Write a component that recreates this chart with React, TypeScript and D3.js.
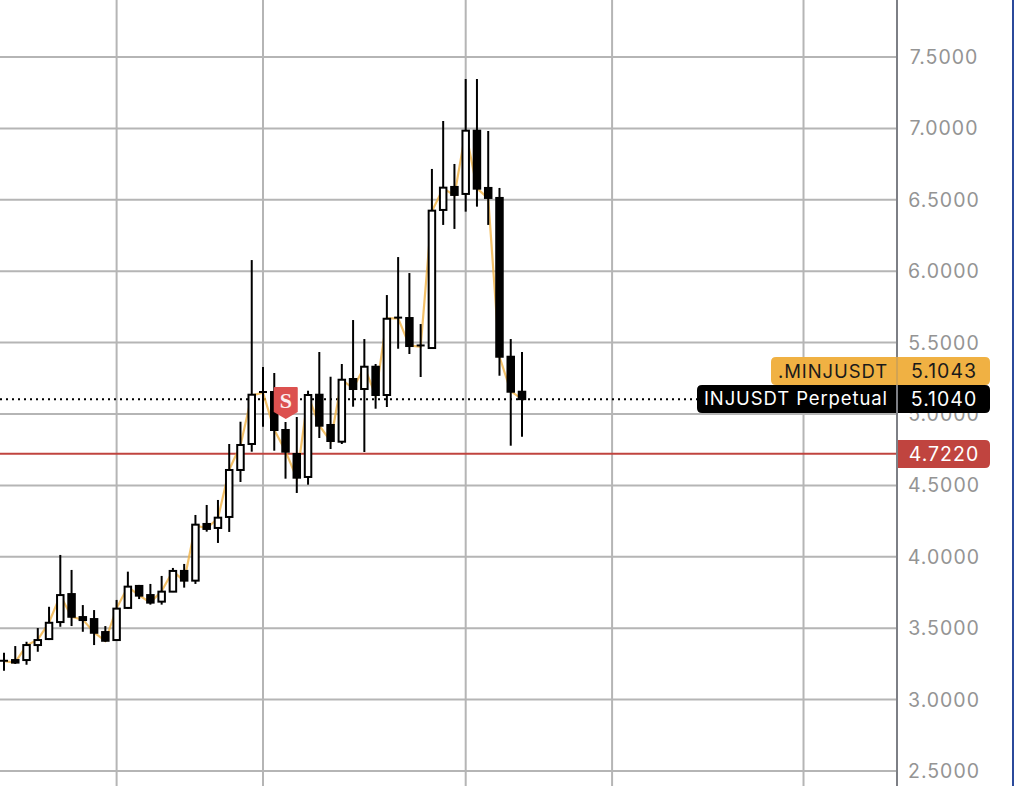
import React, { useMemo } from "react"
import * as d3 from "d3"

const WIDTH = 1014
const HEIGHT = 786

const opens = [3.27, 3.277, 3.277, 3.382, 3.424, 3.543, 3.739, 3.578, 3.564, 3.473, 3.417, 3.642, 3.796, 3.732, 3.686, 3.756, 3.901, 3.833, 4.23, 4.202, 4.279, 4.608, 4.79, 5.15, 5.154, 4.888, 4.72, 4.559, 5.135, 4.923, 4.806, 5.245, 5.175, 5.331, 5.133, 5.67, 5.672, 5.48, 5.462, 6.429, 6.59, 6.541, 6.984, 6.583, 6.513, 5.401, 5.156]
const highs = [3.328, 3.375, 3.405, 3.501, 3.65, 4.013, 3.908, 3.662, 3.627, 3.515, 3.698, 3.896, 3.803, 3.81, 3.866, 3.922, 3.95, 4.293, 4.363, 4.398, 4.79, 4.946, 6.078, 5.329, 5.287, 4.944, 4.979, 5.163, 5.434, 5.261, 5.35, 5.658, 5.525, 5.35, 5.833, 6.099, 5.987, 5.63, 6.716, 7.052, 6.751, 7.346, 7.346, 6.982, 6.583, 5.525, 5.434]
const lows = [3.202, 3.25, 3.244, 3.335, 3.417, 3.51, 3.515, 3.475, 3.382, 3.405, 3.412, 3.637, 3.704, 3.665, 3.665, 3.753, 3.784, 3.81, 4.176, 4.097, 4.174, 4.524, 4.736, 4.911, 4.743, 4.547, 4.447, 4.505, 4.832, 4.755, 4.79, 5.051, 4.734, 5.037, 5.049, 5.457, 5.42, 5.259, 5.462, 6.324, 6.296, 6.417, 6.452, 6.324, 5.268, 4.778, 4.841]
const closes = [3.272, 3.259, 3.382, 3.417, 3.538, 3.732, 3.58, 3.557, 3.468, 3.412, 3.637, 3.791, 3.728, 3.679, 3.756, 3.901, 3.833, 4.225, 4.195, 4.274, 4.608, 4.783, 5.135, 5.154, 4.888, 4.736, 4.554, 5.133, 4.918, 4.811, 5.24, 5.175, 5.331, 5.133, 5.667, 5.675, 5.476, 5.475, 6.424, 6.585, 6.534, 6.984, 6.578, 6.513, 5.401, 5.156, 5.104]
const indexCloses = [3.27, 3.26, 3.38, 3.42, 3.54, 3.73, 3.58, 3.56, 3.47, 3.41, 3.64, 3.79, 3.73, 3.68, 3.76, 3.9, 3.83, 4.22, 4.2, 4.27, 4.61, 4.78, 5.13, 5.15, 4.89, 4.74, 4.55, 5.13, 4.92, 4.81, 5.24, 5.18, 5.33, 5.13, 5.67, 5.67, 5.48, 5.47, 6.42, 6.58, 6.53, 6.98, 6.58, 6.51, 5.4, 5.16, 5.1043]

const priceTicks = [7.5, 7, 6.5, 6, 5.5, 5, 4.5, 4, 3.5, 3, 2.5]
const timeTicks = [10, 23, 41, 54, 71]

const lastPrice = 5.104
const indexPrice = 5.1043
const liquidationPrice = 4.722
const sellMarkerIndex = 24

const GOLD = "#f0b143"
const RED = "#c0443f"
const GRID = "#b5b5b5"
const FONT = "Inter, 'Noto Sans', sans-serif"

const App: React.FC = () => {
  const x = useMemo(() => d3.scaleLinear().domain([0, 46]).range([4, 522]), [])
  const y = useMemo(() => d3.scaleLinear().domain([7.5, 2.5]).range([57, 771]), [])
  const axisX = 897

  const indexLine = d3.line<number>().x((_, i) => x(i)).y(d => y(d))(indexCloses) || ""
  const markerX = x(sellMarkerIndex) + 11.5

  return (
    <svg width={WIDTH} height={HEIGHT} style={{ position: "absolute", left: 0, top: 0, display: "block", background: "#fff" }} fontFamily={FONT}>
      {/* grid */}
      {priceTicks.map(t => (
        <line key={t} x1={0} x2={axisX} y1={y(t)} y2={y(t)} stroke={GRID} strokeWidth={2} />
      ))}
      {timeTicks.map(t => (
        <line key={t} x1={x(t)} x2={x(t)} y1={0} y2={HEIGHT} stroke={GRID} strokeWidth={2} />
      ))}

      {/* price lines */}
      <line x1={0} x2={axisX} y1={y(liquidationPrice)} y2={y(liquidationPrice)} stroke={RED} strokeWidth={2} />
      <line x1={0} x2={700} y1={y(lastPrice)} y2={y(lastPrice)} stroke="#000" strokeWidth={2} strokeDasharray="2 4" />

      <path d={indexLine} fill="none" stroke={GOLD} strokeWidth={2.2} opacity={0.8} />

      {/* candles */}
      {closes.map((c, i) => {
        const o = opens[i]
        const up = c >= o
        const top = y(Math.max(o, c))
        const bottom = y(Math.min(o, c))
        const doji = bottom - top < 2
        return (
          <g key={i}>
            <line x1={x(i)} x2={x(i)} y1={y(highs[i])} y2={y(lows[i])} stroke="#000" strokeWidth={2} />
            {doji ? (
              <line x1={x(i) - 4} x2={x(i) + 4} y1={top} y2={top} stroke="#000" strokeWidth={2} />
            ) : (
              <rect x={x(i) - 3.25} y={top} width={6.5} height={bottom - top} fill={up ? "#fff" : "#000"} stroke="#000" strokeWidth={2} />
            )}
          </g>
        )
      })}

      {/* sell marker */}
      <g transform={`translate(${markerX},387)`}>
        <path d="M-12,1 Q-12,0 -11,0 L11,0 Q12,0 12,1 L12,25 L0,32 L-12,25 Z" fill="#dc514f" />
        <text x={0} y={20.5} textAnchor="middle" fontFamily="'Liberation Serif', serif" fontWeight={700} fontSize={22} fill="#fbeeee">S</text>
      </g>

      {/* axis */}
      <line x1={axisX} x2={axisX} y1={0} y2={HEIGHT} stroke="#7d7f85" strokeWidth={2} />
      {priceTicks.map(t => (
        <text key={t} x={944} y={y(t) + 7} textAnchor="middle" fontSize={19.5} letterSpacing={1} fill="#949494">{d3.format(".4f")(t)}</text>
      ))}
      <rect x={1012} y={0} width={2} height={HEIGHT} fill="#2b4a9b" />

      {/* axis labels */}
      <path d="M896,357 H985 Q990,357 990,362 V380 Q990,385 985,385 H776 Q771,385 771,380 V362 Q771,357 776,357 Z" fill={GOLD} />
      <line x1={axisX} x2={axisX} y1={357} y2={385} stroke="#7d7f85" strokeWidth={1} opacity={0.5} />
      <text x={888} y={378} textAnchor="end" fontSize={18.5} letterSpacing={0.9} fill="#1a1a1a">.MINJUSDT</text>
      <text x={944} y={378} textAnchor="middle" fontSize={19.5} letterSpacing={1} fill="#1a1a1a">{d3.format(".4f")(indexPrice)}</text>

      <path d="M896,385 H985 Q990,385 990,390 V408 Q990,413 985,413 H702 Q697,413 697,408 V390 Q697,385 702,385 Z" fill="#000" />
      <line x1={axisX} x2={axisX} y1={385} y2={413} stroke="#7d7f85" strokeWidth={2} />
      <text x={888} y={405} textAnchor="end" fontSize={18.5} letterSpacing={0.9} fill="#fff">INJUSDT Perpetual</text>
      <text x={944} y={406} textAnchor="middle" fontSize={19.5} letterSpacing={1} fill="#fff">{d3.format(".4f")(lastPrice)}</text>

      <path d="M898,440 H985 Q990,440 990,445 V463 Q990,468 985,468 H898 Z" fill={RED} />
      <text x={944} y={461} textAnchor="middle" fontSize={19.5} letterSpacing={1} fill="#fff">{d3.format(".4f")(liquidationPrice)}</text>
    </svg>
  )
}

export default App
